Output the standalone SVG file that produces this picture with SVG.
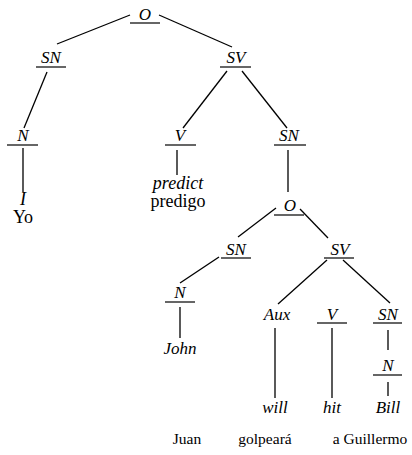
<svg xmlns="http://www.w3.org/2000/svg" width="412" height="455" viewBox="0 0 412 455">
<style>
text{font-family:'Liberation Serif','Times New Roman',serif;text-anchor:middle;fill:#000;font-size:17px}
.lb{font-style:italic}
.big{font-size:18px}
.bot{font-size:15.5px}
.ul{stroke:#000;stroke-width:1.2}
.e{stroke:#000;stroke-width:1.3;fill:none}
</style>
<rect width="412" height="455" fill="#fff"/>
<g id="connectors">
<line class="e" x1="130" y1="15" x2="57" y2="44"/>
<line class="e" x1="159" y1="15" x2="232" y2="47"/>
<line class="e" x1="47" y1="72" x2="24" y2="128"/>
<line class="e" x1="23" y1="148" x2="23" y2="192"/>
<line class="e" x1="227" y1="71" x2="183" y2="128"/>
<line class="e" x1="242" y1="71" x2="287" y2="128"/>
<line class="e" x1="177" y1="150" x2="177" y2="175"/>
<line class="e" x1="288" y1="150" x2="288" y2="192"/>
<line class="e" x1="276" y1="208" x2="238" y2="237"/>
<line class="e" x1="300" y1="209" x2="328" y2="238"/>
<line class="e" x1="219" y1="257" x2="180" y2="283"/>
<line class="e" x1="180" y1="307" x2="180" y2="338"/>
<line class="e" x1="327" y1="260" x2="278" y2="304"/>
<line class="e" x1="343" y1="260" x2="390" y2="303"/>
<line class="e" x1="275" y1="328" x2="275" y2="398"/>
<line class="e" x1="332" y1="328" x2="332" y2="398"/>
<line class="e" x1="388" y1="330" x2="388" y2="350"/>
<line class="e" x1="388" y1="382" x2="388" y2="396"/>
</g>
<g id="O1"><text class="lb" x="145" y="20">O</text><line class="ul" x1="130" y1="23" x2="160" y2="23"/></g>
<g id="SN1"><text class="lb" x="51" y="63">SN</text><line class="ul" x1="36" y1="67" x2="66" y2="67"/></g>
<g id="SV1"><text class="lb" x="236" y="63">SV</text><line class="ul" x1="220" y1="67" x2="251" y2="67"/></g>
<g id="N1"><text class="lb" x="23" y="141">N</text><line class="ul" x1="7" y1="145" x2="38" y2="145"/></g>
<g id="I"><text class="lb big" x="23" y="205">I</text><text class="big" x="23" y="223">Yo</text></g>
<g id="V1"><text class="lb" x="180" y="141">V</text><line class="ul" x1="165" y1="145" x2="196" y2="145"/></g>
<g id="predict"><text class="lb big" x="178" y="189">predict</text><text class="big" x="178" y="207">predigo</text></g>
<g id="SN2"><text class="lb" x="289" y="141">SN</text><line class="ul" x1="274" y1="145" x2="306" y2="145"/></g>
<g id="O2"><text class="lb" x="290" y="211">O</text><line class="ul" x1="274" y1="215" x2="304" y2="215"/></g>
<g id="SN3"><text class="lb" x="236" y="255">SN</text><line class="ul" x1="221" y1="258" x2="251" y2="258"/></g>
<g id="SV2"><text class="lb" x="340" y="255">SV</text><line class="ul" x1="324" y1="258" x2="354" y2="258"/></g>
<g id="N2"><text class="lb" x="180" y="298">N</text><line class="ul" x1="165" y1="302" x2="195" y2="302"/></g>
<g id="John"><text class="lb" x="180" y="354">John</text></g>
<g id="Aux"><text class="lb" x="277" y="320">Aux</text></g>
<g id="V2"><text class="lb" x="332" y="320">V</text><line class="ul" x1="317" y1="323" x2="347" y2="323"/></g>
<g id="SN4"><text class="lb" x="388" y="320">SN</text><line class="ul" x1="373" y1="323" x2="402" y2="323"/></g>
<g id="N3"><text class="lb" x="388" y="371">N</text><line class="ul" x1="373" y1="375" x2="402" y2="375"/></g>
<g id="will"><text class="lb" x="275" y="413">will</text></g>
<g id="hit"><text class="lb" x="332" y="413">hit</text></g>
<g id="Bill"><text class="lb" x="388" y="413">Bill</text></g>
<g id="Juan"><text class="bot" x="187" y="444">Juan</text></g>
<g id="golpeara"><text class="bot" x="265" y="444">golpeará</text></g>
<g id="aGuillermo"><text class="bot" x="370" y="444">a Guillermo</text></g>
</svg>
